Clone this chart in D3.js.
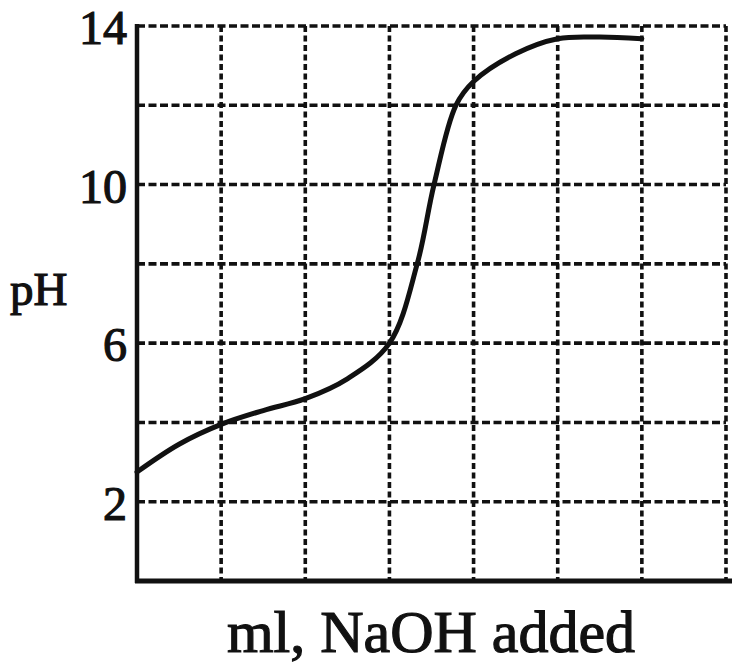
<!DOCTYPE html>
<html>
<head>
<meta charset="utf-8">
<script src="https://cdn.jsdelivr.net/npm/d3@7"></script>
<style>
  body { margin: 0; background: #fff; }
  text { font-family: "Liberation Serif", "DejaVu Serif", serif; fill: #111; }
</style>
</head>
<body>
<svg id="chart"></svg>
<script>
const width  = 738
const height = 664

// titration curve (x in ml, y in pH)
const mlAdded = [0, 5, 10, 15, 20, 25, 30, 33.3, 35.3, 37.9, 40, 45, 50, 55, 60]
const phValues = [2.75, 3.45, 3.95, 4.3, 4.6, 5.1, 6.0, 8, 10, 12, 12.6, 13.3, 13.68, 13.72, 13.68]

const xGrid = [10, 20, 30, 40, 50, 60, 70]
const yGrid = [2, 4, 6, 8, 10, 12, 14]
const yTickLabels = [2, 6, 10, 14]

let svg = d3.select("#chart")
            .attr("width", width)
            .attr("height", height)

const x = d3.scaleLinear().domain([0, 70]).range([137, 726])
const y = d3.scaleLinear().domain([0, 14]).range([581, 26])

const ink = "#111"

// dashed grid
svg.append("g")
    .selectAll("line")
    .data(yGrid)
    .enter().append("line")
    .attr("x1", x(0))
    .attr("x2", x(70))
    .attr("y1", d => y(d))
    .attr("y2", d => y(d))
    .style("stroke", ink)
    .style("stroke-width", 3.6)
    .style("stroke-dasharray", "8,3.5")

svg.append("g")
    .selectAll("line")
    .data(xGrid)
    .enter().append("line")
    .attr("x1", d => x(d))
    .attr("x2", d => x(d))
    .attr("y1", y(14))
    .attr("y2", y(0))
    .style("stroke", ink)
    .style("stroke-width", 3.6)
    .style("stroke-dasharray", "6,3.5")

// solid axes (left and bottom)
svg.append("line")
    .attr("x1", x(0)).attr("x2", x(0))
    .attr("y1", y(14) - 2).attr("y2", y(0) + 2)
    .style("stroke", ink)
    .style("stroke-width", 4.5)

svg.append("line")
    .attr("x1", x(0) - 2).attr("x2", x(70) + 6)
    .attr("y1", y(0)).attr("y2", y(0))
    .style("stroke", ink)
    .style("stroke-width", 5)

// the curve
const line = d3.line()
    .x((d, i) => x(mlAdded[i]))
    .y(d => y(d))
    .curve(d3.curveCatmullRom.alpha(0.5))

svg.append("path")
    .datum(phValues)
    .attr("d", line)
    .attr("fill", "none")
    .style("stroke", ink)
    .style("stroke-width", 5)
    .style("stroke-linecap", "round")

// y tick labels
svg.append("g")
    .selectAll("text")
    .data(yTickLabels)
    .enter().append("text")
    .attr("x", x(0) - 10)
    .attr("y", d => y(d) + 18)
    .attr("text-anchor", "end")
    .style("font-size", "48px")
    .style("stroke", ink)
    .style("stroke-width", 1.2)
    .text(d => d)

// axis titles
svg.append("text")
    .attr("x", 10)
    .attr("y", 305)
    .style("font-size", "47px")
    .style("stroke", ink)
    .style("stroke-width", 1.2)
    .text("pH")

svg.append("text")
    .attr("x", 431)
    .attr("y", 652)
    .attr("text-anchor", "middle")
    .style("font-size", "60px")
    .style("stroke", ink)
    .style("stroke-width", 1.2)
    .text("ml, NaOH added")
</script>
</body>
</html>
